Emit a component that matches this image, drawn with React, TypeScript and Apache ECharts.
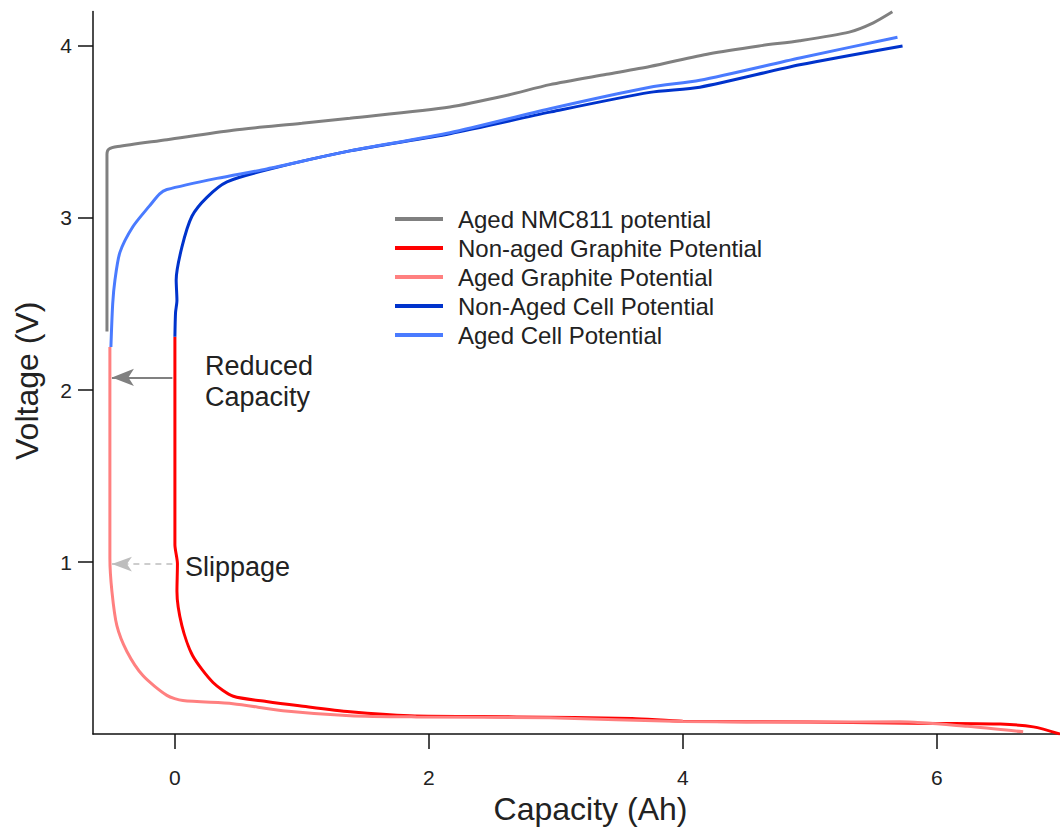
import React, { useEffect, useRef } from "react";
import * as echarts from "echarts";

type Pt = [number, number];

const SERIES_NAMES = [
  "Aged NMC811 potential",
  "Non-aged Graphite Potential",
  "Aged Graphite Potential",
  "Non-Aged Cell Potential",
  "Aged Cell Potential",
];

const agedNmc: Pt[] = [
  [-0.535, 2.34], [-0.535, 3.37], [-0.52, 3.4], [-0.45, 3.415], [-0.063, 3.455],
  [0.457, 3.51], [1.0, 3.55], [1.378, 3.58], [2.165, 3.645], [2.6, 3.71],
  [2.953, 3.775], [3.4, 3.835], [3.74, 3.88], [4.21, 3.955], [4.6, 4.0],
  [4.92, 4.03], [5.31, 4.08], [5.5, 4.134], [5.65, 4.198],
];

const nonAgedGraphite: Pt[] = [
  [0, 2.31], [0, 1.1], [0.02, 0.99], [0.016, 0.83], [0.055, 0.63], [0.14, 0.455],
  [0.3, 0.3], [0.46, 0.22], [0.72, 0.19], [0.98, 0.165], [1.38, 0.13], [1.85, 0.107],
  [2.69, 0.1], [3.6, 0.09], [4.0, 0.075], [5.0, 0.07], [6.0, 0.062], [6.5, 0.058],
  [6.76, 0.042], [6.97, 0.0],
];

const agedGraphite: Pt[] = [
  [-0.512, 2.25], [-0.512, 1.02], [-0.496, 0.83], [-0.457, 0.63], [-0.378, 0.48],
  [-0.252, 0.34], [-0.063, 0.225], [0.063, 0.195], [0.457, 0.177], [0.85, 0.136],
  [1.38, 0.107], [1.9, 0.1], [2.95, 0.095], [4.0, 0.073], [5.0, 0.07], [5.71, 0.072],
  [6.24, 0.045], [6.68, 0.013],
];

const nonAgedCell: Pt[] = [
  [0, 2.31], [0.005, 2.45], [0.016, 2.52], [0.01, 2.64], [0.055, 2.83], [0.134, 3.01],
  [0.252, 3.12], [0.41, 3.21], [0.724, 3.28], [1.378, 3.39], [2.165, 3.49],
  [2.953, 3.615], [3.74, 3.73], [4.134, 3.76], [4.92, 3.89], [5.73, 4.0],
];

const agedCell: Pt[] = [
  [-0.504, 2.25], [-0.49, 2.5], [-0.472, 2.64], [-0.433, 2.8], [-0.33, 2.95],
  [-0.2, 3.07], [-0.12, 3.14], [-0.063, 3.165], [0.33, 3.23], [0.724, 3.285],
  [1.378, 3.39], [2.165, 3.495], [2.953, 3.635], [3.74, 3.76], [4.134, 3.8],
  [4.92, 3.93], [5.69, 4.05],
];

const xTicks = [0, 2, 4, 6];
const yTicks = [1, 2, 3, 4];

// annotation arrows (data coords)
const reducedArrow: Pt[] = [[-0.02, 2.073], [-0.496, 2.073]];
const slippageArrow: Pt[] = [[-0.02, 0.988], [-0.496, 0.988]];

const COLORS = ["#808080", "#ff0000", "#ff8080", "#0033cc", "#4a7bff"];
const FONT = "Liberation Sans, Arial, sans-serif";
const TEXT = "#222222";

export default function App() {
  const ref = useRef<HTMLDivElement>(null);
  useEffect(() => {
    document.body.style.margin = "0";
    const chart = echarts.init(ref.current!, null, { renderer: "svg" });
    const datasets = [agedNmc, nonAgedGraphite, agedGraphite, nonAgedCell, agedCell];
    const series: any[] = datasets.map((d, i) => ({
      name: SERIES_NAMES[i],
      type: "line",
      data: d,
      smooth: 0.25,
      showSymbol: false,
      symbol: "none",
      lineStyle: { color: COLORS[i], width: 3 },
      itemStyle: { color: COLORS[i] },
      z: 2 + i,
    }));
    series[1].markLine = {
      silent: true,
      symbol: ["none", "arrow"],
      symbolSize: [13, 22],
      label: { show: false },
      lineStyle: { color: "#808080", width: 2, type: "solid" },
      data: [[{ coord: reducedArrow[0] }, { coord: reducedArrow[1] }]],
    };
    series[2].markLine = {
      silent: true,
      symbol: ["none", "arrow"],
      symbolSize: [11, 20],
      label: { show: false },
      lineStyle: { color: "#bdbdbd", width: 1.5, type: [6, 5] },
      itemStyle: { color: "#bdbdbd" },
      data: [[{ coord: slippageArrow[0] }, { coord: slippageArrow[1] }]],
    };
    chart.setOption({
      animation: false,
      backgroundColor: "#ffffff",
      textStyle: { fontFamily: FONT },
      grid: { left: 93, right: 0, top: 11.5, bottom: 94.7, containLabel: false },
      legend: {
        orient: "vertical",
        left: 395,
        top: 204.5,
        padding: 0,
        itemWidth: 48,
        itemHeight: 4,
        itemGap: 0,
        icon: "rect",
        data: SERIES_NAMES,
        textStyle: {
          fontFamily: FONT,
          fontSize: 24,
          color: TEXT,
          lineHeight: 29,
          padding: [0, 0, 0, 10],
        },
      },
      xAxis: {
        type: "value",
        min: -0.645,
        max: 6.97,
        name: "Capacity (Ah)",
        nameLocation: "middle",
        nameGap: 55,
        nameTextStyle: { fontSize: 32, color: TEXT, fontFamily: FONT, padding: [0, 0, 0, 28] },
        axisLine: { show: true, onZero: false, lineStyle: { color: "#111", width: 1.5 } },
        axisTick: { show: true, customValues: xTicks, length: 15, lineStyle: { color: "#111", width: 1.5 } },
        axisLabel: { customValues: xTicks, fontSize: 21, color: TEXT, margin: 33, fontFamily: FONT },
        splitLine: { show: false },
      },
      yAxis: {
        type: "value",
        min: 0,
        max: 4.2,
        name: "Voltage (V)",
        nameLocation: "middle",
        nameGap: 50,
        nameTextStyle: { fontSize: 32, color: TEXT, fontFamily: FONT, padding: [0, 16, 0, 0] },
        axisLine: { show: true, onZero: false, lineStyle: { color: "#111", width: 1.5 } },
        axisTick: { show: true, customValues: yTicks, length: 15, lineStyle: { color: "#111", width: 1.5 } },
        axisLabel: { customValues: yTicks, fontSize: 21, color: TEXT, margin: 21, fontFamily: FONT },
        splitLine: { show: false },
      },
      graphic: [
        {
          type: "text",
          left: 205,
          top: 350,
          style: {
            text: "Reduced\nCapacity",
            font: `27px ${FONT}`,
            fill: TEXT,
            lineHeight: 31,
          },
        },
        {
          type: "text",
          left: 185,
          top: 553,
          style: { text: "Slippage", font: `27px ${FONT}`, fill: TEXT },
        },
      ],
      series,
    });
    return () => chart.dispose();
  }, []);
  return <div ref={ref} style={{ width: 1060, height: 830 }} />;
}
